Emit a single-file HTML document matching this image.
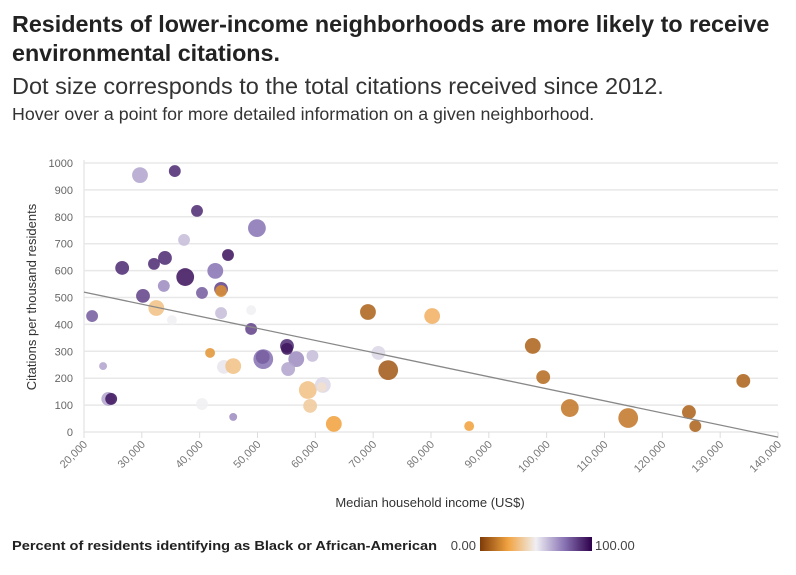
<!DOCTYPE html>
<html><head><meta charset="utf-8"><style>
body{margin:0;background:#fff;font-family:"Liberation Sans",sans-serif;}
#wrap{position:relative;width:796px;height:575px;overflow:hidden}
h1{position:absolute;left:12px;top:10px;margin:0;font-size:23.3px;line-height:29px;font-weight:bold;color:#222;width:784px}
.sub{position:absolute;left:12px;top:73px;font-size:23.5px;color:#333;margin:0;white-space:nowrap}
.sub2{position:absolute;left:12px;top:104px;font-size:17.8px;color:#333;margin:0;white-space:nowrap}
</style></head><body><div id="wrap">
<h1>Residents of lower-income neighborhoods are more likely to receive environmental citations.</h1>
<p class="sub">Dot size corresponds to the total citations received since 2012.</p>
<p class="sub2">Hover over a point for more detailed information on a given neighborhood.</p>
<svg id="chart" width="796" height="575" style="position:absolute;left:0;top:0"></svg>
</div>
<script>
const incomes=[29680,35700,39540,49900,37300,44900,26600,32100,34000,42700,37500,33800,30200,40400,43700,43700,32500,35200,43700,48900,48900,21400,23300,24200,24700,41800,44200,45800,51000,50900,55100,55100,56700,55300,59500,40400,45800,58700,61300,61100,59100,63200,69100,80200,70900,72600,86600,97600,99400,104000,114100,134000,124600,125700];
const citations=[955,970,822,758,714,658,610,625,647,599,576,543,506,517,532,524,461,416,442,453,383,431,245,123,123,294,242,245,271,279,320,309,271,234,283,104,56,156,175,167,97,30,446,431,294,230,22,320,204,89,52,190,74,22];
const totals=[640,360,360,810,360,360,490,360,490,640,810,360,490,360,490,360,640,250,360,250,360,360,160,490,360,250,490,640,1000,490,490,360,640,490,360,360,160,810,640,250,490,640,640,640,490,1000,250,640,490,810,1000,490,490,360];
const pctBlack=[65,90,90,75,60,95,90,90,90,75,95,70,85,80,85,20,35,50,60,50,85,80,65,65,95,22,52,35,75,80,90,95,70,65,60,50,70,35,55,45,38,25,10,30,55,8,25,10,12,15,15,10,10,10];
const yTicks=[0,100,200,300,400,500,600,700,800,900,1000];
const xTicks=[20000,30000,40000,50000,60000,70000,80000,90000,100000,110000,120000,130000,140000];
const trend=[[20000,520],[140000,-19]];
const NS="http://www.w3.org/2000/svg";
const svg=document.getElementById('chart');
const X=v=>84+(v-20000)/120000*694;
const Y=v=>432-v*0.269;
function mk(t,a,p){const e=document.createElementNS(NS,t);for(const k in a)e.setAttribute(k,a[k]);(p||svg).appendChild(e);return e;}
const stops=[[0,[127,59,8]],[0.25,[241,163,64]],[0.5,[240,239,243]],[0.75,[138,117,181]],[1,[45,0,75]]];
function col(p){const t=p/100;for(let i=0;i<4;i++){const a=stops[i],b=stops[i+1];if(t<=b[0]){const f=(t-a[0])/(b[0]-a[0]);return 'rgb('+a[1].map((c,j)=>Math.round(c+(b[1][j]-c)*f)).join(',')+')';}}return 'rgb(45,0,75)';}
yTicks.forEach(v=>{
 const g=mk('line',{x1:84,x2:778,y1:Y(v),y2:Y(v),stroke:'#e8e8e8','stroke-width':1.5});
 
 const t=mk('text',{x:73,y:Y(v)+4,'text-anchor':'end','font-size':11,fill:'#666'});t.textContent=v;
 
});
xTicks.forEach(v=>{
 const l=mk('line',{x1:X(v),x2:X(v),y1:432,y2:438,stroke:'#ddd'});
 
 const t=mk('text',{x:X(v)+4,y:445,'text-anchor':'end','font-size':11,fill:'#777',transform:`rotate(-45 ${X(v)+4} 445)`});t.textContent=v.toLocaleString('en-US');
 
});
const ax=mk('line',{x1:84,x2:84,y1:160,y2:432,stroke:'#e8e8e8','stroke-width':1.5});

incomes.forEach((v,i)=>{
 const c=mk('circle',{cx:X(v),cy:Y(citations[i]),r:Math.sqrt(totals[i])/3.2,fill:col(pctBlack[i]),'fill-opacity':0.88});
 
});
const tl=mk('line',{x1:X(trend[0][0]),y1:Y(trend[0][1]),x2:X(trend[1][0]),y2:Y(trend[1][1]),stroke:'#888','stroke-width':1.3});

const yt=mk('text',{x:36,y:297,'text-anchor':'middle','font-size':13,fill:'#333',transform:'rotate(-90 36 297)'});yt.textContent='Citations per thousand residents';

const xt=mk('text',{x:430,y:507,'text-anchor':'middle','font-size':13,fill:'#333'});xt.textContent='Median household income (US$)';

const lt=mk('text',{x:12,y:550,'font-size':13,'font-weight':'bold',fill:'#222',textLength:425,lengthAdjust:'spacingAndGlyphs'});lt.textContent='Percent of residents identifying as Black or African-American';

const defs=mk('defs',{});const lg=mk('linearGradient',{id:'lg'},defs);
stops.forEach(s=>mk('stop',{offset:s[0],'stop-color':`rgb(${s[1].join(',')})`},lg));
const l0=mk('text',{x:476,y:550,'text-anchor':'end','font-size':13,fill:'#444'});l0.textContent='0.00';

const lb=mk('rect',{x:480,y:537,width:112,height:14,fill:'url(#lg)'});

const l1=mk('text',{x:595,y:550,'font-size':13,fill:'#444'});l1.textContent='100.00';

</script></body></html>
